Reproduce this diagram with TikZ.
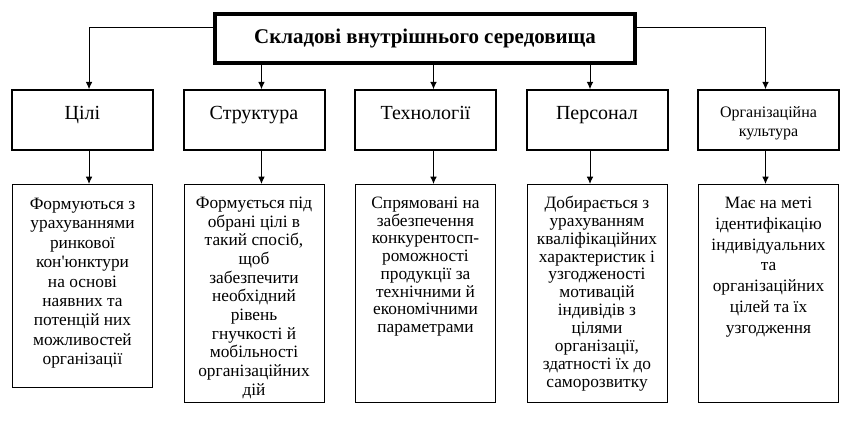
\documentclass[tikz,border=0pt]{standalone}
\usepackage{fontspec}
\setmainfont{Liberation Serif}
\usetikzlibrary{arrows.meta}

\tikzset{
	headbox/.style={draw=black, line width=3pt, minimum width=315pt, minimum height=36.75pt, inner sep=0pt, font=\bfseries\fontsize{15.7}{18}\selectfont},
	partbox/.style={draw=black, line width=1.5pt, inner sep=0pt, font=\fontsize{15}{18}\selectfont},
	notebox/.style={draw=black, line width=0.75pt, inner sep=0pt, anchor=north},
	arr/.style={draw=black, line width=0.75pt, -{Latex[length=5.5pt,width=5pt]}},
}
% box of fixed size, text from the top: height, width, first baseline, text
\newcommand{\topfill}[4]{\parbox[c][#1][t]{#2}{\centering\rule{0pt}{#3}\ignorespaces#4\par}}

\begin{document}
\begin{tikzpicture}[x=0.75pt, y=-0.75pt]
	\useasboundingbox (0,0) rectangle (854,423);
	\node[headbox] (head) at (425,38.5) {\raisebox{1.5pt}{Складові внутрішнього середовища}};
	\node[partbox] (cili) at (82.5,120.25) {\topfill{45pt}{105.75pt}{22pt}{Цілі}};
	\node[partbox] (strukt) at (254,120.25) {\topfill{45pt}{105.75pt}{22pt}{Структура}};
	\node[partbox] (tekh) at (425.5,120.25) {\topfill{45pt}{105.75pt}{22pt}{Технології}};
	\node[partbox] (pers) at (597,120.25) {\topfill{45pt}{105.75pt}{22pt}{Персонал}};
	\node[partbox, font=\fontsize{12}{14.25}\selectfont] (kult) at (768.5,120.25) {\topfill{45pt}{105.75pt}{20.3pt}{Організаційна\\ культура}};
	\node[notebox, font=\fontsize{13}{14.6}\selectfont] (cilinote) at (82.5,184) {\topfill{152.25pt}{105pt}{18.5pt}{Формуються з\\ урахуваннями\\ ринкової\\ кон\textquotesingle юнктури\\ на основі\\ наявних та\\ потенцій них\\ можливостей\\ організації}};
	\node[notebox, font=\fontsize{13}{14}\selectfont] (struktnote) at (254,184) {\topfill{163.5pt}{105pt}{18pt}{Формується під\\ обрані цілі в\\ такий спосіб,\\ щоб\hspace*{42pt}\\ забезпечити\\ необхідний\\ рівень\hspace*{17pt}\\ гнучкості й\\ мобільності\\ організаційних\\ дій}};
	\node[notebox, font=\fontsize{13}{13.3}\selectfont] (tekhnote) at (425.5,184) {\topfill{163.5pt}{105pt}{18pt}{Спрямовані на\\ забезпечення\\ конкурентосп-\\ роможності\\ продукції за\\ технічними й\\ економічними\\ параметрами}};
	\node[notebox, font=\fontsize{13}{13.4}\selectfont] (persnote) at (597,184) {\topfill{163.5pt}{105pt}{18pt}{Добирається з\\ урахуванням\\ кваліфікаційних\\ характеристик і\\ узгодженості\\ мотивацій\\ індивідів з\\ цілями\\ організації,\\ здатності їх до\\ саморозвитку}};
	\node[notebox, font=\fontsize{13}{15.6}\selectfont] (kultnote) at (768.5,184) {\topfill{163.5pt}{105pt}{18pt}{Має на меті\\ ідентифікацію\\ індивідуальних\\ та\\ організаційних\\ цілей та їх\\ узгодження}};
	% from the title box
	\draw[arr] ([yshift=8pt]head.west) -| ([xshift=4.9pt]cili.north);
	\draw[arr] ([xshift=5.6pt]strukt.north |- head.south) -- ([xshift=5.6pt]strukt.north);
	\draw[arr] ([xshift=6pt]tekh.north |- head.south) -- ([xshift=6pt]tekh.north);
	\draw[arr] ([xshift=-5.25pt]pers.north |- head.south) -- ([xshift=-5.25pt]pers.north);
	\draw[arr] ([yshift=8pt]head.east) -| ([xshift=-2.25pt]kult.north);
	% down to the notes
	\draw[arr] ([xshift=4.9pt]cili.south) -- ([xshift=4.9pt]cilinote.north);
	\draw[arr] ([xshift=5.6pt]strukt.south) -- ([xshift=5.6pt]struktnote.north);
	\draw[arr] ([xshift=6pt]tekh.south) -- ([xshift=6pt]tekhnote.north);
	\draw[arr] ([xshift=-5.25pt]pers.south) -- ([xshift=-5.25pt]persnote.north);
	\draw[arr] ([xshift=-2.25pt]kult.south) -- ([xshift=-2.25pt]kultnote.north);
\end{tikzpicture}
\end{document}
